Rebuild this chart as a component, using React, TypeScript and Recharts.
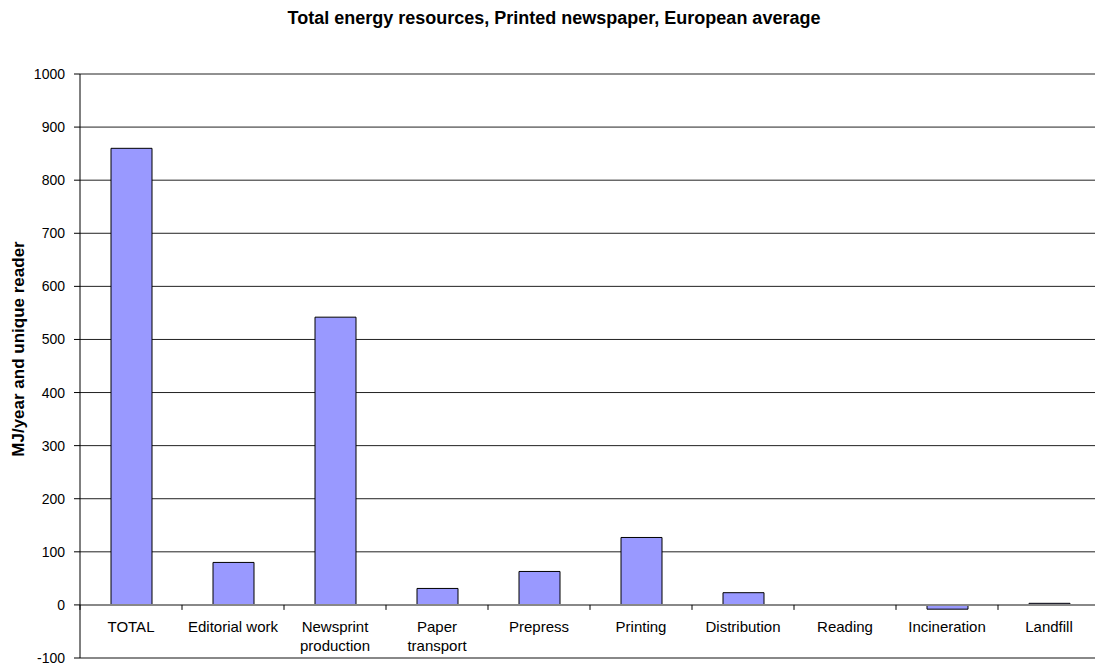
import { BarChart, Bar, XAxis, YAxis, CartesianGrid, ReferenceLine } from "recharts";

const categories = [
  "TOTAL",
  "Editorial work",
  "Newsprint\nproduction",
  "Paper\ntransport",
  "Prepress",
  "Printing",
  "Distribution",
  "Reading",
  "Incineration",
  "Landfill",
];
const energy = [860, 80, 542, 31, 63, 127, 23, 0, -8, 3];
const yTicks = [-100, 0, 100, 200, 300, 400, 500, 600, 700, 800, 900, 1000];

const data = categories.map((name, i) => ({ name, value: energy[i] }));

const Y_MIN = -100;
const Y_MAX = 1000;
const CHART_W = 1110;
const CHART_H = 666;
const MARGIN = { top: 74, right: 10, bottom: 0, left: 0 };
const X_AXIS_H = 8;
const Y_AXIS_W = 80;
const PLOT_H = CHART_H - MARGIN.top - MARGIN.bottom - X_AXIS_H;
const PLOT_W = CHART_W - MARGIN.left - MARGIN.right - Y_AXIS_W;
const BAND = PLOT_W / categories.length;
const ZERO_UP = (PLOT_H * (0 - Y_MIN)) / (Y_MAX - Y_MIN);
const FONT = "'Liberation Sans', Arial, sans-serif";

// category labels sit under the zero line, like Excel does it
const CategoryTick = (props: any) => {
  const { x, y, payload } = props;
  const zeroY = y - ZERO_UP;
  const lines = String(payload.value).split("\n");
  return (
    <g>
      <line x1={x - BAND / 2} x2={x - BAND / 2} y1={zeroY} y2={zeroY + 5} stroke="#000" />
      <text x={x} y={zeroY + 27} textAnchor="middle" fontSize={15} fill="#000" fontFamily={FONT}>
        {lines.map((l, i) => (
          <tspan key={i} x={x} dy={i === 0 ? 0 : 19}>
            {l}
          </tspan>
        ))}
      </text>
    </g>
  );
};

const App = () => {
  return (
    <div
      style={{
        position: "absolute",
        left: 0,
        top: 0,
        width: 1095,
        height: 666,
        overflow: "hidden",
        background: "#fff",
        fontFamily: FONT,
      }}
    >
      <svg width={1095} height={666} style={{ position: "absolute", left: 0, top: 0 }}>
        <text x={554} y={24} textAnchor="middle" fontSize={18} fontWeight="bold" fill="#000" fontFamily={FONT}>
          Total energy resources, Printed newspaper, European average
        </text>
        <text
          x={24}
          y={349}
          textAnchor="middle"
          fontSize={17}
          fontWeight="bold"
          fill="#000"
          fontFamily={FONT}
          transform="rotate(-90 24 349)"
        >
          MJ/year and unique reader
        </text>
      </svg>
      <div style={{ position: "absolute", left: 0, top: 0 }}>
        <BarChart width={CHART_W} height={CHART_H} data={data} margin={MARGIN} barSize={41}>
          <CartesianGrid horizontal vertical={false} stroke="#222" strokeDasharray="0" />
          <YAxis
            width={Y_AXIS_W}
            domain={[Y_MIN, Y_MAX]}
            ticks={yTicks}
            interval={0}
            allowDataOverflow
            axisLine={{ stroke: "#000" }}
            tickLine={{ stroke: "#000" }}
            tickSize={6}
            tickMargin={9}
            tick={{ fontSize: 14, fill: "#000", fontFamily: FONT }}
          />
          <XAxis
            dataKey="name"
            height={X_AXIS_H}
            axisLine={false}
            tickLine={false}
            tickSize={0}
            tickMargin={0}
            interval={0}
            tick={<CategoryTick />}
          />
          <ReferenceLine y={-100} stroke="#888" strokeWidth={2} />
          <Bar dataKey="value" fill="#9999FF" stroke="#000" strokeWidth={1} isAnimationActive={false} />
          <ReferenceLine y={0} stroke="#888" strokeWidth={2} />
        </BarChart>
      </div>
    </div>
  );
};

export default App;
